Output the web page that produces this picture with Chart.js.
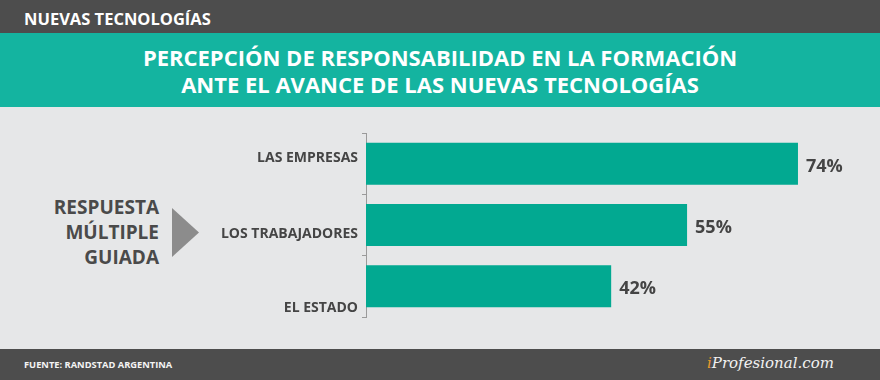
<!DOCTYPE html>
<html lang="es">
<head>
<meta charset="utf-8">
<script src="https://cdn.jsdelivr.net/npm/chart.js@4.4.1/dist/chart.umd.min.js"></script>
<style>
  html, body { margin:0; padding:0; width:880px; height:380px; overflow:hidden; background:#e6e7e8; font-family:"Open Sans", sans-serif; }
  .abs { position:absolute; }
  #top { left:0; top:0; width:880px; height:33px; background:#4d4d4d; }
  #topTxt { left:24px; top:9px; line-height:20px; font-size:16.5px; font-weight:700; color:#fff; white-space:nowrap; }
  #band { left:0; top:33px; width:880px; height:74px; background:#14b4a0; }
  #title { left:0; top:44px; width:880px; text-align:center; color:#fff; font-weight:700; font-size:22px; line-height:27px; }
  #foot { left:0; top:349px; width:880px; height:31px; background:#4d4d4d; }
  #footTxt { left:24px; top:359px; line-height:12px; font-size:9.3px; font-weight:700; color:#f4f4f4; white-space:nowrap; }
  #logo { left:707px; top:354px; line-height:18px; font-size:15px; font-family:"DejaVu Serif", serif; font-style:italic; color:#f2f2f2; white-space:nowrap; }
  #logo b { color:#e89a2c; font-weight:400; }
  #side { right:721px; top:195px; text-align:right; color:#4a4a4a; font-weight:700; font-size:19px; line-height:25px; white-space:nowrap; }
  #tri { left:172px; top:208px; width:27px; height:49px; background:#8c8c8c; clip-path:polygon(0 0, 100% 50%, 0 100%); }
  #wrap { left:0; top:0; width:880px; height:380px; }
</style>
</head>
<body>
<div id="top" class="abs"></div>
<div id="topTxt" class="abs">NUEVAS TECNOLOGÍAS</div>
<div id="band" class="abs"></div>
<div id="title" class="abs">PERCEPCIÓN DE RESPONSABILIDAD EN LA FORMACIÓN<br>ANTE EL AVANCE DE LAS NUEVAS TECNOLOGÍAS</div>
<div id="side" class="abs">RESPUESTA<br>MÚLTIPLE<br>GUIADA</div>
<div id="tri" class="abs"></div>
<div id="foot" class="abs"></div>
<div id="footTxt" class="abs">FUENTE: RANDSTAD ARGENTINA</div>
<div id="logo" class="abs"><b>i</b>Profesional.com</div>
<div id="wrap" class="abs"><canvas id="c" width="880" height="380"></canvas></div>
<script>
const categories = ["LAS EMPRESAS", "LOS TRABAJADORES", "EL ESTADO"];
const values = [74, 55, 42];
const valueLabels = ["74%", "55%", "42%"];

// vertical nudges for category label placement (style, not data)
const catLabelShift = [-7, 8, 21];

const labelPlugin = {
  id: 'customLabels',
  afterDatasetsDraw(chart) {
    const ctx = chart.ctx;
    const meta = chart.getDatasetMeta(0);
    const yScale = chart.scales.y;
    ctx.save();
    ctx.fillStyle = '#444444';
    ctx.font = '700 18px "Open Sans"';
    ctx.textAlign = 'left';
    ctx.textBaseline = 'alphabetic';
    meta.data.forEach((bar, i) => {
      ctx.fillText(valueLabels[i], bar.x + 8, bar.y + 1.5 + 0.357 * 18);
    });
    ctx.fillStyle = '#454545';
    ctx.font = '700 14px "Open Sans"';
    ctx.textAlign = 'right';
    categories.forEach((c, i) => {
      const y = yScale.getPixelForValue(i) + catLabelShift[i];
      ctx.fillText(c, yScale.left - 4, y + 0.357 * 14);
    });
    ctx.restore();
  }
};

new Chart(document.getElementById('c'), {
  type: 'bar',
  data: {
    labels: categories,
    datasets: [{
      data: values,
      backgroundColor: '#02a991',
      borderWidth: 0,
      barPercentage: 0.685,
      categoryPercentage: 1.0
    }]
  },
  options: {
    indexAxis: 'y',
    responsive: false,
    animation: false,
    events: [],
    layout: { padding: { left: 362, top: 133, right: 47, bottom: 63 } },
    plugins: { legend: { display: false }, tooltip: { enabled: false }, title: { display: false } },
    scales: {
      x: { display: false, min: 0, max: 80 },
      y: {
        type: 'category',
        ticks: { display: false },
        grid: { display: true, drawOnChartArea: false, drawTicks: true, tickLength: 4, color: '#9a9a9a', offset: true },
        border: { display: true, color: '#9a9a9a', width: 1 },
        afterFit(scale) { scale.width = 4; }
      }
    }
  },
  plugins: [labelPlugin]
});
</script>
</body>
</html>
